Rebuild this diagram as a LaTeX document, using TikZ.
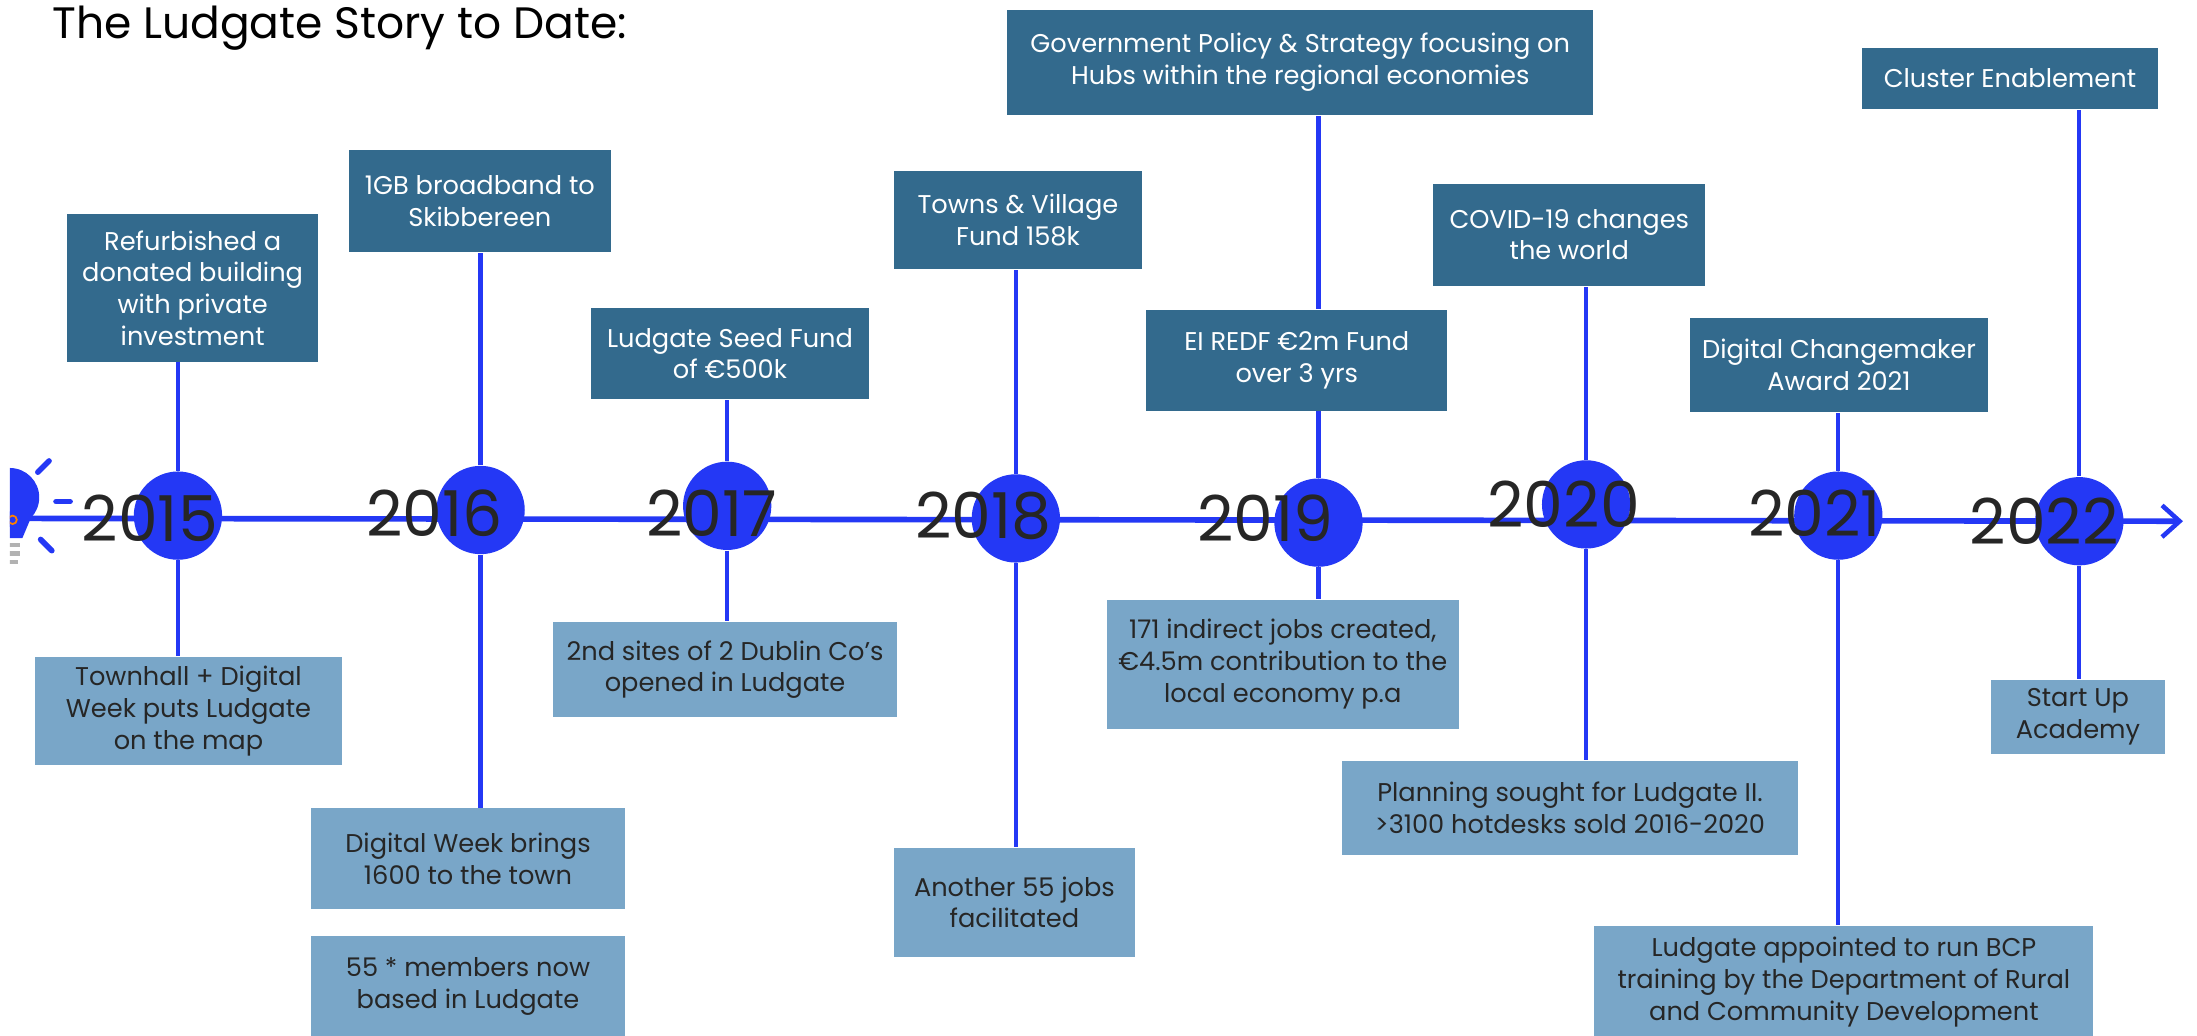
\documentclass[tikz,border=0pt]{standalone}
\usepackage{fontspec}
\setmainfont{Poppins}
\usetikzlibrary{arrows.meta}

\definecolor{lineblue}{RGB}{36,56,245}
\definecolor{darkbox}{RGB}{51,106,141}
\definecolor{lightbox}{RGB}{121,166,200}
\definecolor{inkgrey}{RGB}{38,38,38}

\def\pxu{0.39865pt}

\begin{document}
\begin{tikzpicture}[x=0.014011cm, y=-0.014011cm,
        yearlabel/.style={text=inkgrey, font=\fontsize{18}{18}\selectfont, inner sep=0pt},
        topbox/.style={fill=darkbox, text=white, align=center, inner sep=1pt,
            font=\fontsize{7.3}{9}\selectfont},
        lowbox/.style={fill=lightbox, text=inkgrey, align=center, inner sep=1pt,
            font=\fontsize{7.3}{9}\selectfont},
        stem/.style={draw=lineblue, line width=1.2pt}
    ]
    \useasboundingbox (0,0) rectangle (1568,739);

    \node[anchor=west, text=black, font=\fontsize{12.5}{12.5}\selectfont, inner sep=0pt] (title) at (37,20) {The Ludgate Story to Date:};

    % bulb at the start of the line
    \begin{scope}
        \clip (7,300) rectangle (80,420);
        \fill[lineblue] (7,355) circle (21);
        \fill[lineblue] (-10,365) -- (24,365) -- (16,384) -- (-10,384) -- cycle;
        \draw[orange, line width=0.5pt] (9,371) circle (3);
        \draw[gray!60, line width=1.2pt] (5,389) -- (14,389) (5,395) -- (14,395) (5,401) -- (13,401);
    \end{scope}
    \draw[lineblue, line width=1.6pt, line cap=round] (27,337) -- (35,329);
    \draw[lineblue, line width=1.6pt, line cap=round] (40,358) -- (50,358);
    \draw[lineblue, line width=1.6pt, line cap=round] (29,385) -- (37,393);

    \coordinate (tail) at (20,370);
    \coordinate (head) at (1558,372);
    \draw[lineblue, line width=1.6pt, -{Straight Barb[length=5pt, width=9pt, line width=1.3pt]}] (tail) -- (head);

    \begin{scope}[every node/.style={circle, fill=lineblue, minimum size=63*\pxu, inner sep=0pt}]
        \node (c15) at (127,368) {};
        \node (c16) at (343,364) {};
        \node (c17) at (519,361) {};
        \node (c18) at (725,370) {};
        \node (c19) at (941,373) {};
        \node (c20) at (1132,360) {};
        \node (c21) at (1312,368) {};
        \node (c22) at (1484,372) {};
    \end{scope}

    \node[yearlabel] (y15) at (107,370) {2015};
    \node[yearlabel] (y16) at (310,366) {2016};
    \node[yearlabel] (y17) at (508,366) {2017};
    \node[yearlabel] (y18) at (702,368) {2018};
    \node[yearlabel] (y19) at (903,370) {2019};
    \node[yearlabel] (y20) at (1116,360) {2020};
    \node[yearlabel] (y21) at (1295,366) {2021};
    \node[yearlabel] (y22) at (1459,372) {2022};

    % above the line
    \node[topbox, minimum width=179*\pxu, minimum height=105*\pxu] (t15) at (137.5,205.5) {Refurbished a\\donated building\\with private\\investment};
    \node[topbox, minimum width=187*\pxu, minimum height=73*\pxu] (t16) at (342.5,143.5) {1GB broadband to\\Skibbereen};
    \node[topbox, minimum width=198*\pxu, minimum height=65*\pxu] (t17) at (521,252.5) {Ludgate Seed Fund\\of €500k};
    \node[topbox, minimum width=177*\pxu, minimum height=70*\pxu] (t18) at (726.5,157) {Towns \& Village\\Fund 158k};
    \node[topbox, minimum width=418*\pxu, minimum height=75*\pxu] (t19a) at (928,44.5) {Government Policy \& Strategy focusing on\\Hubs within the regional economies};
    \node[topbox, minimum width=215*\pxu, minimum height=72*\pxu] (t19b) at (925.5,257) {EI REDF €2m Fund\\over 3 yrs};
    \node[topbox, minimum width=194*\pxu, minimum height=73*\pxu] (t20) at (1120,167.5) {COVID-19 changes\\the world};
    \node[topbox, minimum width=213*\pxu, minimum height=67*\pxu] (t21) at (1312.5,260.5) {Digital Changemaker\\Award 2021};
    \node[topbox, minimum width=211*\pxu, minimum height=44*\pxu] (t22) at (1434.5,56) {Cluster Enablement};

    % below the line
    \node[lowbox, minimum width=219*\pxu, minimum height=77*\pxu] (b15) at (134.5,507.5) {Townhall + Digital\\Week puts Ludgate\\on the map};
    \node[lowbox, minimum width=224*\pxu, minimum height=72*\pxu] (b16a) at (334,613) {Digital Week brings\\1600 to the town};
    \node[lowbox, minimum width=224*\pxu, minimum height=72*\pxu] (b16b) at (334,704) {55 * members now\\based in Ludgate};
    \node[lowbox, minimum width=245*\pxu, minimum height=68*\pxu] (b17) at (517.5,478) {2nd sites of 2 Dublin Co’s\\opened in Ludgate};
    \node[lowbox, minimum width=172*\pxu, minimum height=78*\pxu] (b18) at (724,644) {Another 55 jobs\\facilitated};
    \node[lowbox, minimum width=251*\pxu, minimum height=92*\pxu] (b19) at (915.5,474) {171 indirect jobs created,\\€4.5m contribution to the\\local economy p.a};
    \node[lowbox, minimum width=325*\pxu, minimum height=67*\pxu] (b20) at (1120.5,576.5) {Planning sought for Ludgate II.\\>3100 hotdesks sold 2016-2020};
    \node[lowbox, minimum width=356*\pxu, minimum height=80*\pxu] (b21) at (1316,701) {Ludgate appointed to run BCP\\training by the Department of Rural\\and Community Development};
    \node[lowbox, minimum width=124*\pxu, minimum height=53*\pxu] (b22) at (1483,511.5) {Start Up\\Academy};

    \draw[stem] (c15.north) edge (c15 |- t15.south);
    \draw[stem] (c16.north) edge (c16 |- t16.south);
    \draw[stem] (c17.north) edge (c17 |- t17.south);
    \draw[stem] (c18.north) edge (c18 |- t18.south);
    \draw[stem] (c19.north) edge (c19 |- t19b.south);
    \draw[stem] (c19 |- t19b.north) edge (c19 |- t19a.south);
    \draw[stem] (c20.north) edge (c20 |- t20.south);
    \draw[stem] (c21.north) edge (c21 |- t21.south);
    \draw[stem] (c22.north) edge (c22 |- t22.south);

    \draw[stem] (c15.south) edge (c15 |- b15.north);
    \draw[stem] (c16.south) edge (c16 |- b16a.north);
    \draw[stem] (c17.south) edge (c17 |- b17.north);
    \draw[stem] (c18.south) edge (c18 |- b18.north);
    \draw[stem] (c19.south) edge (c19 |- b19.north);
    \draw[stem] (c20.south) edge (c20 |- b20.north);
    \draw[stem] (c21.south) edge (c21 |- b21.north);
    \draw[stem] (c22.south) edge (c22 |- b22.north);
    % \draw[stem] (b16a) edge (b16b);
\end{tikzpicture}
\end{document}
